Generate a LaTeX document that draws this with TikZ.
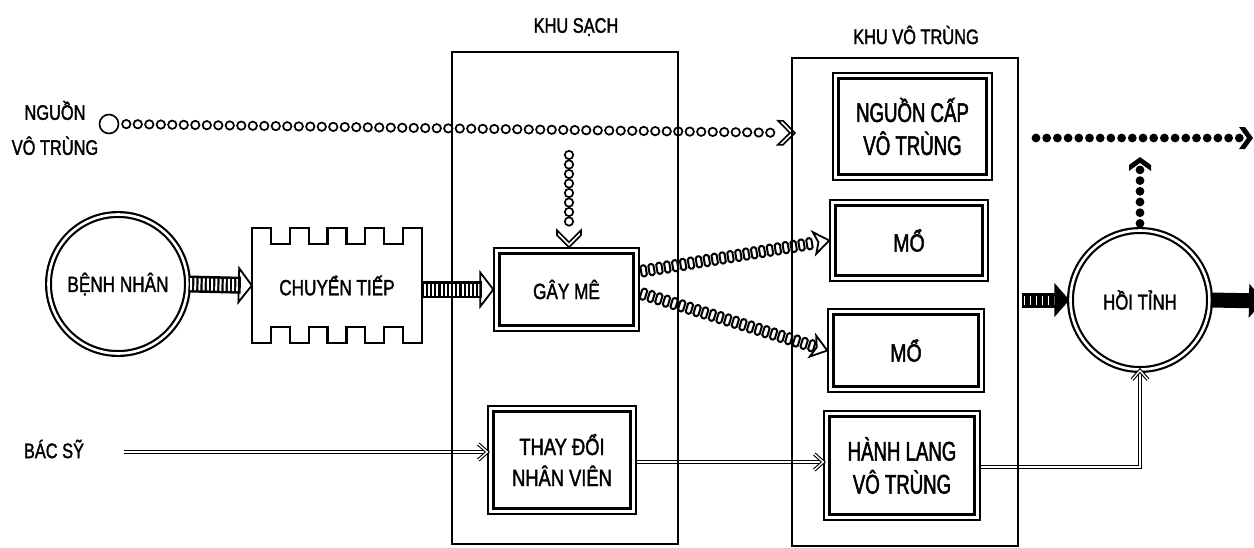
\documentclass[tikz,border=0pt]{standalone}
\usepackage{fontspec}
\setmainfont{Liberation Sans}[FakeStretch=0.78, FakeBold=1.6]
\newfontfamily\condfont{Liberation Sans}[FakeStretch=0.69, FakeBold=1.8]
\usetikzlibrary{decorations.markings}

\tikzset{
  lbl/.style={inner sep=0pt, align=center, font=\fontsize{21}{35}\selectfont},
  zone/.style={draw, line width=1.6pt, inner sep=0pt},
  dbox/.style={draw, line width=1.4pt, inner sep=0pt, align=center, font=\fontsize{22}{33}\selectfont,
    path picture={\draw[line width=3pt] ([shift={(5.5pt,5.5pt)}]path picture bounding box.south west) rectangle ([shift={(-5.5pt,-5.5pt)}]path picture bounding box.north east);}},
  tall/.style={font=\condfont\fontsize{27}{33}\selectfont},
  dcirc/.style={circle, draw, double, double distance=2.6pt, line width=2.2pt, inner sep=0pt, minimum size=139pt, font=\fontsize{22}{26}\selectfont},
  ochain/.style={decoration={markings,
      mark=between positions 7pt and -20pt step #1 with {\draw[line width=1.7pt] (0pt,0pt) circle (4.2pt);},
      mark=at position 0.99999 with {\draw[line width=1.6pt, line join=miter] (0pt,0pt) -- (-12pt,-12pt) -- (-17pt,-12pt) -- (-5pt,0pt) -- (-17pt,12pt) -- (-12pt,12pt) -- cycle;}},
    decorate},
  rchain/.style={decoration={markings,
      mark=between positions 4pt and -16pt step 8pt with {\draw[line width=2pt, rounded corners=1.6pt] (-2.6pt,-5.5pt) rectangle (2.6pt,5.5pt);},
      mark=at position 0.99999 with {\draw[line width=1.8pt, line join=miter] (0pt,0pt) -- (-15pt,-11pt) -- (-11pt,0pt) -- (-15pt,11pt) -- cycle;}},
    decorate},
  fchain/.style={decoration={markings,
      mark=between positions 6pt and -11pt step 10.7pt with {\fill (0pt,0pt) circle (4.4pt);},
      mark=at position 0.99999 with {\fill[line join=miter] (0pt,0pt) -- (-8pt,-11pt) -- (-14pt,-11pt) -- (-6pt,0pt) -- (-14pt,11pt) -- (-8pt,11pt) -- cycle;}},
    decorate},
  hatch/.style={line width=17pt, shorten >=11pt,
    postaction={draw=white, line width=12pt, dash pattern=on 2pt off 2.2pt, shorten >=12pt, shorten <=1.5pt},
    postaction={decorate, decoration={markings, mark=at position 0.99999 with {\draw[line width=1.8pt, line join=miter] (0pt,0pt) -- (-13pt,-17pt) -- (-13pt,17pt) -- cycle;}}}},
  hatchb/.style={line width=15pt, shorten >=13pt,
    postaction={draw=white, line width=9pt, dash pattern=on 1pt off 5pt, shorten >=15pt, shorten <=2pt},
    postaction={decorate, decoration={markings, mark=at position 0.99999 with {\fill (0pt,0pt) -- (-15pt,-17pt) -- (-15pt,17pt) -- cycle;}}}},
  hatchs/.style={line width=15pt, shorten >=13pt,
    postaction={decorate, decoration={markings, mark=at position 0.99999 with {\fill (0pt,0pt) -- (-15pt,-17pt) -- (-15pt,17pt) -- cycle;}}}},
  dline/.style={double, double distance=1.4pt, line width=1.3pt,
    postaction={decorate, decoration={markings, mark=at position 0.99999 with {\draw[double, double distance=1.4pt, line width=1.1pt, line join=miter] (-9pt,-8pt) -- (0pt,0pt) -- (-9pt,8pt);}}}}
}

\begin{document}
\begin{tikzpicture}[x=1pt,y=-1pt]
\useasboundingbox[fill=white] (0,0) rectangle (1254,547);

% labels
\node[lbl] (ksl) at (576,27) {KHU SẠCH};
\node[lbl] (kvtl) at (916,35) {KHU VÔ TRÙNG};
\node[lbl] (srcl) at (55,128) {NGUỒN\\VÔ TRÙNG};
\node[lbl] (bsl) at (54,449) {BÁC SỸ};

% nodes
\node[circle, draw, line width=1.6pt, minimum size=19pt, inner sep=0pt] (src) at (109,124) {};
\node[dcirc] (bn) at (118,284) {BỆNH NHÂN};
\node[inner sep=0pt, minimum width=170pt, minimum height=115pt, font=\fontsize{22}{26}\selectfont] (ct) at (337,285.5) {CHUYỂN TIẾP};
\draw[line width=2.2pt, line join=miter] (252,228)
  foreach \i in {1,3,5,7} { -- ({252+\i*18.889},228) -- ({252+\i*18.889},244) -- ({252+(\i+1)*18.889},244) -- ({252+(\i+1)*18.889},228) }
  -- (422,228) -- (422,343)
  foreach \i in {8,6,4,2} { -- ({252+\i*18.889},343) -- ({252+\i*18.889},327) -- ({252+(\i-1)*18.889},327) -- ({252+(\i-1)*18.889},343) }
  -- (252,343) -- cycle;
\node[dbox, minimum width=145pt, minimum height=83pt] (gm) at (566.5,289.5) {GÂY MÊ};
\node[dbox, tall, minimum width=159pt, minimum height=107pt] (nc) at (912.5,126.5) {NGUỒN CẤP\\VÔ TRÙNG};
\node[dbox, minimum width=158pt, minimum height=81pt, font=\fontsize{25}{30}\selectfont] (mo1) at (909,240.5) {MỔ};
\node[dbox, minimum width=156pt, minimum height=83pt, font=\fontsize{25}{30}\selectfont] (mo2) at (906,350.5) {MỔ};
\node[dbox, tall, minimum width=156pt, minimum height=109pt] (hl) at (902,465.5) {HÀNH LANG\\VÔ TRÙNG};
\node[dbox, minimum width=148pt, minimum height=108pt, font=\fontsize{23.5}{31}\selectfont] (td) at (562,460) {THAY ĐỔI\\NHÂN VIÊN};
\node[dcirc, font=\fontsize{21.5}{26}\selectfont] (hoi) at (1140,300) {HỒI TỈNH};

% free ends
\coordinate (ncin) at (795,133);
\coordinate (vtop) at (569,148);
\coordinate (outL) at (1030,138);
\coordinate (outR) at (1253,138);
\coordinate (hoitop) at (1141,157);
\coordinate (hin) at (1022,300);
\coordinate (hout) at (1264,301);
\coordinate (bs) at (124,452);
\coordinate (ya) at (0,462);
\coordinate (yb) at (0,467);

% connectors
\path[ochain=11.5pt] (src.east) -- (ncin);
\path[ochain=9.5pt] (vtop) -- (vtop |- gm.north);
\path[rchain] ([yshift=18pt]gm.east) -- (mo1.west);
\path[rchain] ([yshift=-3.5pt]gm.east) -- (mo2.west);
\draw[hatch] (bn.east) -- (ct.west);
\draw[hatch] (ct.east |- gm.west) -- (gm.west);
\draw[hatchb] (hin) -- (hoi.west);
\draw[hatchs] (hoi.east) -- (hout);
\path[fchain] (outL) -- (outR);
\path[fchain] (hoi.north) -- (hoi.north |- hoitop);
\draw[dline] (bs) -- (bs -| td.west);
\draw[dline] (td.east |- ya) -- (hl.west |- ya);
\draw[dline] (hl.east |- yb) -| (hoi.south);

% zones
\node[zone, minimum width=226pt, minimum height=492pt] (ks) at (565,298) {};
\node[zone, minimum width=226pt, minimum height=488pt] (kvt) at (905,302) {};
\end{tikzpicture}
\end{document}
